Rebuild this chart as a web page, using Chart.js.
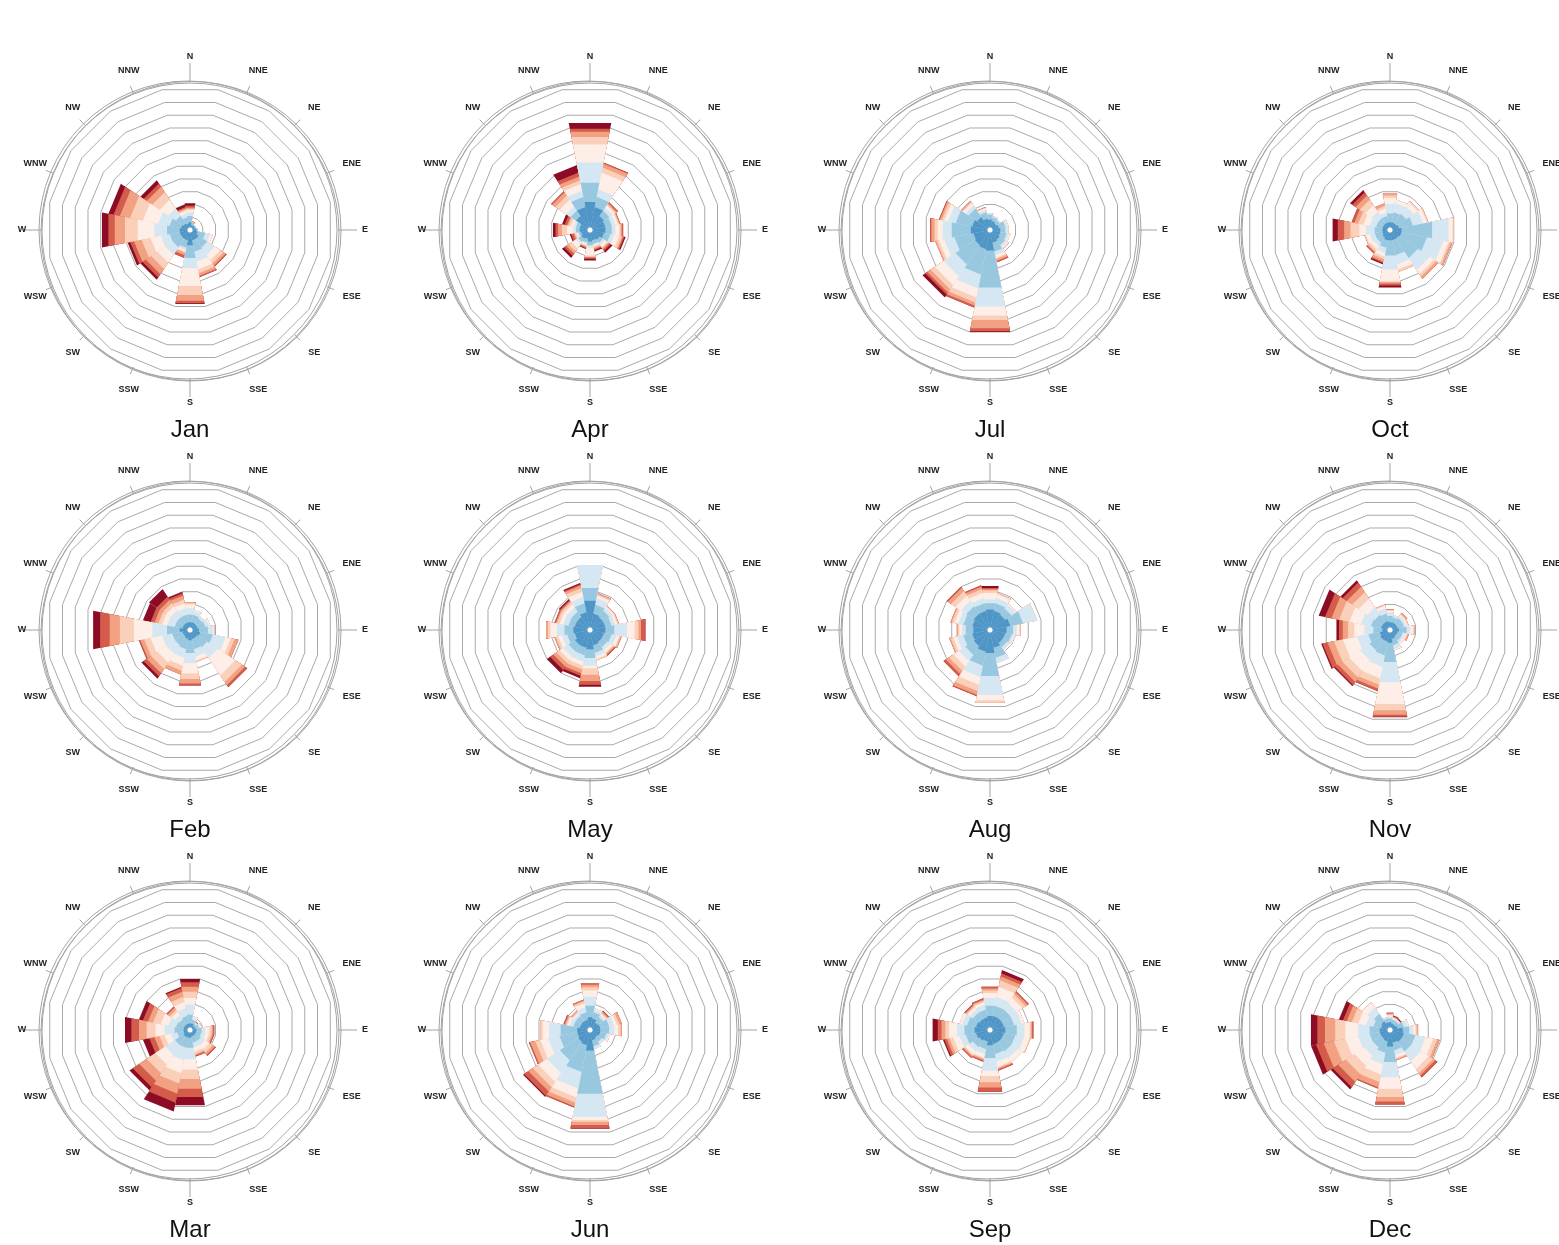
<!DOCTYPE html>
<html>
<head>
<meta charset="utf-8">
<script src="https://cdn.jsdelivr.net/npm/chart.js@4.4.1/dist/chart.umd.min.js"></script>
<style>
	body { margin: 0; background: #fff; width: 1559px; height: 1245px; overflow: hidden; position: relative; }
	canvas { position: absolute; }
</style>
</head>
<body>
<script>
// Directions, clockwise from north
const directions = ['N', 'NNE', 'NE', 'ENE', 'E', 'ESE', 'SE', 'SSE', 'S', 'SSW', 'SW', 'WSW', 'W', 'WNW', 'NW', 'NNW'];
const monthNames = ['Jan', 'Feb', 'Mar', 'Apr', 'May', 'Jun', 'Jul', 'Aug', 'Sep', 'Oct', 'Nov', 'Dec'];

// One colour per speed bin, calm (blue) to strong (dark red)
const speedColors = ['#4f96c7', '#98c7e0', '#d5e7f2', '#fdefe8', '#fbd0bb', '#f2a283', '#d45c4b', '#8d0c25'];

// Grid rings (radial units)
const ringMax = 11;

// Frequency per direction (rows, N..NNW) and speed bin (columns)
const jan = [
	[0.6, 0.5, 0.3, 0.15, 0.1, 0.1, 0.15, 0.2],
	[0.4, 0.2, 0, 0, 0, 0.1, 0, 0],
	[0.4, 0.1, 0, 0, 0, 0, 0, 0],
	[0.4, 0.1, 0, 0, 0, 0, 0, 0],
	[0.5, 0.1, 0, 0, 0, 0, 0, 0],
	[0.6, 0.6, 0.4, 0.2, 0, 0, 0, 0],
	[0.8, 0.8, 0.7, 0.5, 0.3, 0.2, 0.1, 0],
	[0.8, 0.9, 0.8, 0.6, 0.3, 0.2, 0.1, 0],
	[1.2, 1.0, 0.8, 1.4, 0.7, 0.45, 0.2, 0.05],
	[0.8, 0.6, 0.2, 0.1, 0.1, 0.2, 0.2, 0],
	[0.8, 0.8, 0.7, 0.7, 0.6, 0.5, 0.3, 0.2],
	[0.8, 0.8, 0.7, 0.8, 0.7, 0.6, 0.3, 0.2],
	[0.8, 1.0, 1.0, 1.3, 1.0, 0.8, 0.5, 0.5],
	[0.7, 0.9, 0.9, 1.2, 1.0, 0.8, 0.5, 0.4],
	[0.6, 0.7, 0.7, 0.8, 0.7, 0.5, 0.3, 0.3],
	[0.5, 0.5, 0.3, 0.2, 0.1, 0.1, 0.1, 0.2]
];
const feb = [
	[0.6, 0.6, 0.5, 0.3, 0.1, 0.1, 0, 0],
	[0.6, 0.6, 0.3, 0.1, 0, 0, 0, 0],
	[0.6, 0.5, 0.2, 0, 0, 0, 0, 0],
	[0.6, 0.6, 0.3, 0.1, 0, 0, 0, 0],
	[0.7, 0.7, 0.4, 0.1, 0, 0, 0, 0],
	[0.8, 1.0, 1.0, 0.4, 0.3, 0.3, 0, 0],
	[0.7, 0.9, 1.0, 1.6, 0.6, 0.3, 0.2, 0],
	[0.7, 0.8, 0.6, 0.3, 0.1, 0, 0, 0],
	[0.8, 1.0, 0.8, 0.8, 0.45, 0.35, 0.15, 0],
	[0.7, 0.8, 0.7, 0.6, 0.4, 0.3, 0, 0],
	[0.6, 0.8, 0.8, 0.8, 0.6, 0.4, 0.3, 0.2],
	[0.6, 0.8, 0.8, 0.9, 0.5, 0.3, 0.1, 0],
	[0.8, 1.0, 1.15, 1.45, 1.1, 0.8, 0.75, 0.55],
	[0.6, 0.6, 0.6, 0.4, 0.3, 0.3, 0.3, 0.6],
	[0.6, 0.6, 0.6, 0.4, 0.3, 0.3, 0.3, 0.7],
	[0.6, 0.6, 0.5, 0.4, 0.3, 0.3, 0.2, 0.1]
];
const mar = [
	[0.5, 0.7, 0.8, 0.5, 0.5, 0.4, 0.35, 0.25],
	[0.5, 0.3, 0.2, 0.1, 0, 0, 0, 0],
	[0.4, 0.2, 0.1, 0, 0, 0.05, 0.05, 0],
	[0.4, 0.3, 0.1, 0.1, 0, 0, 0, 0],
	[0.5, 0.4, 0.3, 0.3, 0.2, 0.1, 0.1, 0],
	[0.5, 0.4, 0.3, 0.3, 0.2, 0.1, 0.1, 0],
	[0.5, 0.5, 0.4, 0.4, 0.3, 0.2, 0.1, 0],
	[0.5, 0.5, 0.4, 0.3, 0.2, 0.1, 0.1, 0],
	[0.6, 0.8, 0.9, 0.8, 0.75, 0.75, 0.65, 0.65],
	[0.6, 0.8, 1.0, 1.0, 0.8, 0.8, 0.7, 0.7],
	[0.6, 0.8, 0.9, 0.9, 0.8, 0.7, 0.6, 0.3],
	[0.5, 0.5, 0.5, 0.5, 0.4, 0.4, 0.4, 0.5],
	[0.5, 0.7, 0.8, 0.7, 0.7, 0.6, 0.6, 0.5],
	[0.5, 0.6, 0.6, 0.6, 0.6, 0.4, 0.4, 0.3],
	[0.5, 0.5, 0.4, 0.3, 0.2, 0.2, 0.1, 0],
	[0.5, 0.6, 0.6, 0.5, 0.4, 0.4, 0.3, 0.1]
];
const apr = [
	[2.2, 1.5, 1.6, 1.4, 0.6, 0.4, 0.25, 0.45],
	[1.8, 0.8, 0.6, 1.3, 0.4, 0.3, 0.1, 0],
	[1.3, 0.5, 0.3, 0.2, 0.1, 0.1, 0.1, 0],
	[1.2, 0.5, 0.3, 0.2, 0.1, 0.05, 0.05, 0],
	[1.2, 0.5, 0.3, 0.3, 0.1, 0.1, 0.1, 0],
	[1.1, 0.5, 0.3, 0.4, 0.2, 0.1, 0.1, 0.1],
	[0.9, 0.3, 0.2, 0.2, 0.1, 0.1, 0.15, 0.15],
	[0.8, 0.3, 0.1, 0.1, 0.1, 0.1, 0.1, 0.1],
	[0.9, 0.3, 0.2, 0.6, 0.1, 0.05, 0.1, 0.15],
	[0.7, 0.3, 0.1, 0.1, 0.1, 0.05, 0.1, 0.05],
	[0.8, 0.3, 0.2, 0.4, 0.3, 0.2, 0.2, 0.2],
	[0.7, 0.2, 0.1, 0.1, 0.1, 0.1, 0.2, 0.1],
	[0.8, 0.3, 0.2, 0.5, 0.4, 0.3, 0.2, 0.2],
	[0.8, 0.3, 0.2, 0.2, 0.2, 0.1, 0.2, 0.2],
	[1.3, 0.5, 0.4, 0.6, 0.4, 0.3, 0.1, 0],
	[1.8, 0.8, 0.5, 0.5, 0.3, 0.3, 0.3, 0.6]
];
const may = [
	[2.3, 1.0, 1.8, 0, 0, 0, 0, 0],
	[1.3, 0.7, 0.5, 0.2, 0.1, 0.1, 0, 0],
	[1.2, 0.6, 0.3, 0.1, 0.05, 0.05, 0, 0],
	[1.2, 0.5, 0.3, 0.15, 0.1, 0.05, 0, 0],
	[1.2, 0.7, 1.0, 0.6, 0.3, 0.2, 0.35, 0],
	[1.1, 0.6, 0.4, 0.2, 0.1, 0.1, 0, 0],
	[1.1, 0.5, 0.3, 0.2, 0.1, 0.1, 0.1, 0],
	[1.2, 0.6, 0.3, 0.2, 0.1, 0, 0, 0],
	[1.5, 0.7, 0.6, 0.2, 0.5, 0.5, 0.3, 0.15],
	[1.4, 0.6, 0.5, 0.3, 0.3, 0.3, 0.2, 0.2],
	[1.4, 0.6, 0.5, 0.3, 0.3, 0.3, 0.3, 0.3],
	[1.2, 0.6, 0.4, 0.3, 0.2, 0.1, 0, 0],
	[1.3, 0.7, 0.6, 0.5, 0.2, 0.15, 0, 0],
	[1.2, 0.5, 0.4, 0.3, 0.2, 0.1, 0.1, 0],
	[1.2, 0.5, 0.4, 0.3, 0.2, 0.1, 0.1, 0.1],
	[1.4, 0.7, 0.5, 0.4, 0.3, 0.2, 0.1, 0.1]
];
const jun = [
	[1.0, 0.9, 0.7, 0.5, 0.25, 0.2, 0.1, 0],
	[0.9, 0.5, 0.2, 0.1, 0, 0, 0, 0],
	[0.7, 0.5, 0.2, 0.1, 0.1, 0.1, 0.1, 0],
	[0.8, 0.7, 0.4, 0.2, 0.2, 0.2, 0, 0],
	[0.8, 0.7, 0.4, 0.3, 0.2, 0.1, 0, 0],
	[0.8, 0.5, 0.2, 0.1, 0, 0, 0, 0],
	[0.7, 0.4, 0.2, 0, 0, 0, 0, 0],
	[0.8, 0.5, 0.2, 0, 0, 0, 0, 0],
	[1.6, 3.4, 1.8, 0.25, 0.15, 0.25, 0.25, 0.05],
	[1.2, 2.1, 1.3, 0.7, 0.4, 0.3, 0.1, 0],
	[1.1, 1.7, 1.2, 0.8, 0.5, 0.4, 0.4, 0.1],
	[1.0, 1.4, 0.9, 0.6, 0.4, 0.4, 0.1, 0],
	[1.0, 1.3, 0.9, 0.5, 0.2, 0, 0, 0],
	[0.8, 0.5, 0.3, 0.2, 0.1, 0.1, 0.1, 0],
	[0.8, 0.5, 0.2, 0.1, 0.1, 0.1, 0, 0],
	[0.8, 0.6, 0.4, 0.3, 0.15, 0.1, 0.05, 0]
];
const jul = [
	[0.8, 0.4, 0.1, 0, 0, 0, 0, 0],
	[0.7, 0.3, 0.1, 0, 0, 0, 0, 0],
	[0.6, 0.3, 0.1, 0, 0, 0, 0, 0],
	[0.7, 0.5, 0.2, 0.05, 0, 0, 0, 0],
	[0.8, 0.4, 0.2, 0.05, 0, 0, 0, 0],
	[0.8, 0.5, 0.2, 0.1, 0, 0, 0, 0],
	[0.9, 0.5, 0.2, 0.1, 0.05, 0, 0, 0],
	[1.0, 0.7, 0.3, 0.2, 0.1, 0.15, 0.1, 0],
	[1.6, 2.9, 1.5, 0.7, 0.35, 0.65, 0.25, 0.05],
	[1.5, 2.0, 1.1, 0.7, 0.4, 0.25, 0.15, 0],
	[1.4, 1.8, 1.1, 0.8, 0.4, 0.3, 0.2, 0.25],
	[1.3, 1.5, 0.8, 0.4, 0.2, 0.1, 0, 0],
	[1.5, 1.5, 0.7, 0.4, 0.25, 0.25, 0.1, 0],
	[1.4, 1.3, 0.6, 0.3, 0.2, 0.15, 0.05, 0],
	[1.2, 0.8, 0.3, 0.2, 0.1, 0.1, 0, 0],
	[0.9, 0.5, 0.2, 0.1, 0.05, 0.05, 0, 0]
];
const aug = [
	[1.6, 0.5, 0.3, 0.5, 0.2, 0.1, 0.1, 0.15],
	[1.5, 0.6, 0.4, 0.3, 0.1, 0, 0, 0],
	[1.4, 0.6, 0.4, 0.1, 0, 0, 0, 0],
	[1.6, 1.0, 1.1, 0, 0, 0, 0, 0],
	[1.3, 0.5, 0.3, 0.2, 0.1, 0, 0, 0],
	[1.2, 0.5, 0.2, 0.1, 0, 0, 0, 0],
	[1.2, 0.4, 0.2, 0, 0, 0, 0, 0],
	[1.4, 0.8, 0.4, 0, 0, 0, 0, 0],
	[1.8, 1.8, 1.5, 0.4, 0.2, 0, 0, 0],
	[1.7, 1.1, 0.9, 0.6, 0.5, 0.3, 0.1, 0],
	[1.5, 0.8, 0.6, 0.5, 0.4, 0.3, 0.2, 0],
	[1.4, 0.7, 0.5, 0.3, 0.2, 0.1, 0, 0],
	[1.3, 0.6, 0.3, 0.2, 0.1, 0.1, 0, 0],
	[1.4, 0.7, 0.4, 0.3, 0.2, 0.1, 0, 0],
	[1.5, 0.7, 0.5, 0.5, 0.4, 0.3, 0.1, 0],
	[1.5, 0.6, 0.4, 0.4, 0.3, 0.2, 0.1, 0]
];
const sep = [
	[1.1, 0.8, 0.6, 0.4, 0.2, 0.15, 0.15, 0],
	[1.1, 0.8, 0.7, 0.8, 0.5, 0.3, 0.25, 0.25],
	[1.1, 0.8, 0.6, 0.5, 0.3, 0.2, 0.1, 0],
	[1.1, 0.8, 0.6, 0.2, 0, 0, 0, 0],
	[1.2, 0.9, 0.6, 0.4, 0.1, 0.1, 0.1, 0],
	[1.1, 0.9, 0.7, 0.4, 0.1, 0, 0, 0],
	[1.1, 0.9, 0.6, 0.4, 0, 0, 0, 0],
	[1.1, 0.8, 0.6, 0.4, 0.1, 0.1, 0.1, 0],
	[1.2, 1.0, 1.0, 0.4, 0.5, 0.4, 0.35, 0],
	[0.9, 0.6, 0.4, 0.3, 0.1, 0.1, 0.1, 0],
	[1.0, 0.6, 0.4, 0.3, 0.1, 0.1, 0.1, 0],
	[1.1, 0.8, 0.5, 0.5, 0.3, 0.2, 0.2, 0.1],
	[1.2, 0.8, 0.6, 0.6, 0.3, 0.3, 0.3, 0.4],
	[1.1, 0.7, 0.4, 0.2, 0, 0, 0, 0],
	[1.0, 0.6, 0.3, 0.2, 0.1, 0.1, 0.1, 0],
	[1.0, 0.6, 0.4, 0.2, 0.1, 0.1, 0.1, 0]
];
const oct = [
	[0.6, 0.7, 0.75, 0.45, 0.2, 0.15, 0, 0],
	[0.6, 0.8, 0.7, 0.3, 0, 0, 0, 0],
	[0.6, 0.9, 0.7, 0.4, 0.1, 0, 0, 0],
	[0.7, 1.1, 0.8, 0.3, 0.1, 0, 0, 0],
	[0.9, 2.4, 1.3, 0.3, 0.1, 0, 0, 0],
	[0.9, 2.0, 1.3, 0.4, 0.15, 0.15, 0, 0],
	[0.8, 1.8, 1.1, 0.4, 0.2, 0.2, 0, 0],
	[0.8, 1.2, 0.7, 0.4, 0.2, 0, 0, 0],
	[0.8, 1.2, 1.1, 0.9, 0.1, 0.1, 0.15, 0.15],
	[0.8, 0.6, 0.4, 0.3, 0.2, 0.2, 0.1, 0.1],
	[0.7, 0.5, 0.3, 0.3, 0.2, 0.1, 0.1, 0],
	[0.6, 0.6, 0.4, 0.3, 0.1, 0, 0, 0],
	[0.6, 0.6, 0.7, 0.5, 0.7, 0.5, 0.5, 0.4],
	[0.6, 0.5, 0.5, 0.5, 0.4, 0.3, 0.2, 0],
	[0.6, 0.5, 0.6, 0.6, 0.5, 0.4, 0.3, 0.2],
	[0.6, 0.5, 0.3, 0.3, 0.2, 0.2, 0, 0]
];
const nov = [
	[0.6, 0.5, 0.3, 0.1, 0.05, 0.05, 0, 0],
	[0.6, 0.4, 0.2, 0, 0, 0, 0, 0],
	[0.6, 0.5, 0.2, 0.1, 0.1, 0.1, 0, 0],
	[0.6, 0.5, 0.2, 0.1, 0.1, 0, 0, 0],
	[0.7, 0.6, 0.3, 0.2, 0.1, 0, 0, 0],
	[0.6, 0.4, 0.2, 0.1, 0.1, 0.1, 0, 0],
	[0.6, 0.4, 0.2, 0.1, 0, 0, 0, 0],
	[0.7, 0.5, 0.3, 0.1, 0, 0, 0, 0],
	[1.0, 1.5, 1.6, 1.7, 0.5, 0.35, 0.15, 0.05],
	[0.9, 1.1, 0.9, 0.9, 0.5, 0.3, 0.2, 0],
	[0.9, 1.0, 0.9, 1.0, 0.6, 0.4, 0.3, 0.1],
	[0.8, 0.9, 0.9, 1.1, 0.7, 0.5, 0.4, 0.1],
	[0.6, 0.7, 0.7, 0.8, 0.5, 0.4, 0.3, 0.2],
	[0.7, 0.8, 0.8, 0.9, 0.8, 0.6, 0.5, 0.5],
	[0.7, 0.7, 0.7, 0.8, 0.6, 0.5, 0.4, 0.2],
	[0.7, 0.6, 0.4, 0.2, 0.1, 0, 0, 0]
];
const dec = [
	[0.6, 0.3, 0.15, 0.1, 0.05, 0.1, 0.05, 0],
	[0.5, 0.3, 0.1, 0.05, 0.05, 0.05, 0.05, 0.05],
	[0.5, 0.3, 0.1, 0.05, 0, 0.05, 0.05, 0.05],
	[0.6, 0.5, 0.3, 0.1, 0, 0, 0, 0],
	[1.0, 0.5, 0.3, 0.2, 0.1, 0.1, 0, 0],
	[1.1, 0.9, 0.8, 0.6, 0.3, 0.2, 0, 0],
	[1.1, 0.9, 0.9, 0.7, 0.4, 0.2, 0.2, 0],
	[1.0, 0.6, 0.4, 0.2, 0.1, 0.1, 0, 0],
	[1.3, 1.2, 1.2, 0.9, 0.65, 0.35, 0.25, 0],
	[0.9, 0.9, 0.9, 0.8, 0.6, 0.4, 0.1, 0],
	[0.8, 0.8, 0.8, 0.9, 0.8, 0.7, 0.5, 0.2],
	[0.8, 0.8, 0.9, 1.0, 0.9, 0.8, 0.6, 0.4],
	[0.8, 0.8, 0.9, 1.0, 0.8, 0.8, 0.6, 0.5],
	[0.7, 0.6, 0.6, 0.6, 0.5, 0.4, 0.3, 0.3],
	[0.8, 0.7, 0.6, 0.5, 0, 0, 0, 0],
	[0.6, 0.3, 0.1, 0, 0, 0, 0, 0]
];

const monthTables = [jan, feb, mar, apr, may, jun, jul, aug, sep, oct, nov, dec];

// Compass ring, ticks and direction labels around each rose
const roseDecor = {
	id: 'roseDecor',
	afterDatasetsDraw(chart) {
		const scale = chart.scales.r;
		const ctx = chart.ctx;
		ctx.save();
		ctx.fillStyle = '#fff';
		ctx.beginPath();
		ctx.arc(scale.xCenter, scale.yCenter, 2.5, 0, Math.PI * 2);
		ctx.fill();
		ctx.restore();
	},
	afterDraw(chart) {
		const scale = chart.scales.r;
		const ctx = chart.ctx;
		const cx = scale.xCenter;
		const cy = scale.yCenter;
		const R = scale.drawingArea;

		ctx.save();
		ctx.strokeStyle = '#a3a3a3';
		ctx.lineWidth = 1;
		// slightly offset outer circles
		[[0, 2, 6], [-2, 0, 6], [1.5, 1, 6.5]].forEach(([dx, dy, dr]) => {
			ctx.beginPath();
			ctx.arc(cx + dx, cy + dy, R + dr, 0, Math.PI * 2);
			ctx.stroke();
		});

		ctx.font = "bold 9px 'Liberation Sans', Arial, sans-serif";
		ctx.fillStyle = '#222';
		ctx.textAlign = 'center';
		ctx.textBaseline = 'middle';
		directions.forEach((dir, i) => {
			const a = i * Math.PI / 8;
			const sx = Math.sin(a);
			const sy = -Math.cos(a);
			const inner = R + 5;
			const outer = i % 4 === 0 ? R + 24 : R + 13;
			ctx.beginPath();
			ctx.moveTo(cx + sx * inner, cy + sy * inner);
			ctx.lineTo(cx + sx * outer, cy + sy * outer);
			ctx.stroke();
			let shift = 0;
			if (sx > 0.1) shift = 2;
			if (sx < -0.1) shift = 5;
			ctx.fillText(dir, cx + sx * (R + 30) + shift, cy + sy * (R + 30));
		});
		ctx.restore();
	}
};

monthTables.forEach((table, m) => {
	const col = Math.floor(m / 3);
	const row = m % 3;

	const canvas = document.createElement('canvas');
	canvas.width = 400;
	canvas.height = 420;
	canvas.style.left = (col * 400 - 10) + 'px';
	canvas.style.top = (row * 400 + 30) + 'px';
	document.body.appendChild(canvas);

	// stacked look: cumulative totals, smallest drawn on top
	const datasets = speedColors.map((color, k) => ({
		data: table.map(bins => bins.slice(0, k + 1).reduce((s, v) => s + v, 0)),
		backgroundColor: color,
		borderWidth: 0,
		circular: false
	}));

	new Chart(canvas, {
		type: 'polarArea',
		data: { labels: directions, datasets: datasets },
		options: {
			responsive: false,
			animation: false,
			devicePixelRatio: 1,
			layout: { padding: { left: 57, right: 57, top: 57, bottom: 5.2 } },
			plugins: {
				legend: { display: false },
				tooltip: { enabled: false },
				title: {
					display: true,
					text: monthNames[m],
					position: 'bottom',
					color: '#111',
					font: { family: "'Liberation Sans', Arial, sans-serif", size: 24, weight: 'normal', lineHeight: 1.2 },
					padding: { top: 43, bottom: 0 }
				}
			},
			scales: {
				r: {
					min: 0,
					max: ringMax,
					startAngle: -11.25,
					ticks: { display: false, stepSize: 1 },
					grid: { circular: false, color: '#a9a9a9', lineWidth: 1 },
					angleLines: { display: false },
					pointLabels: { display: false }
				}
			}
		},
		plugins: [roseDecor]
	});
});
</script>
</body>
</html>
